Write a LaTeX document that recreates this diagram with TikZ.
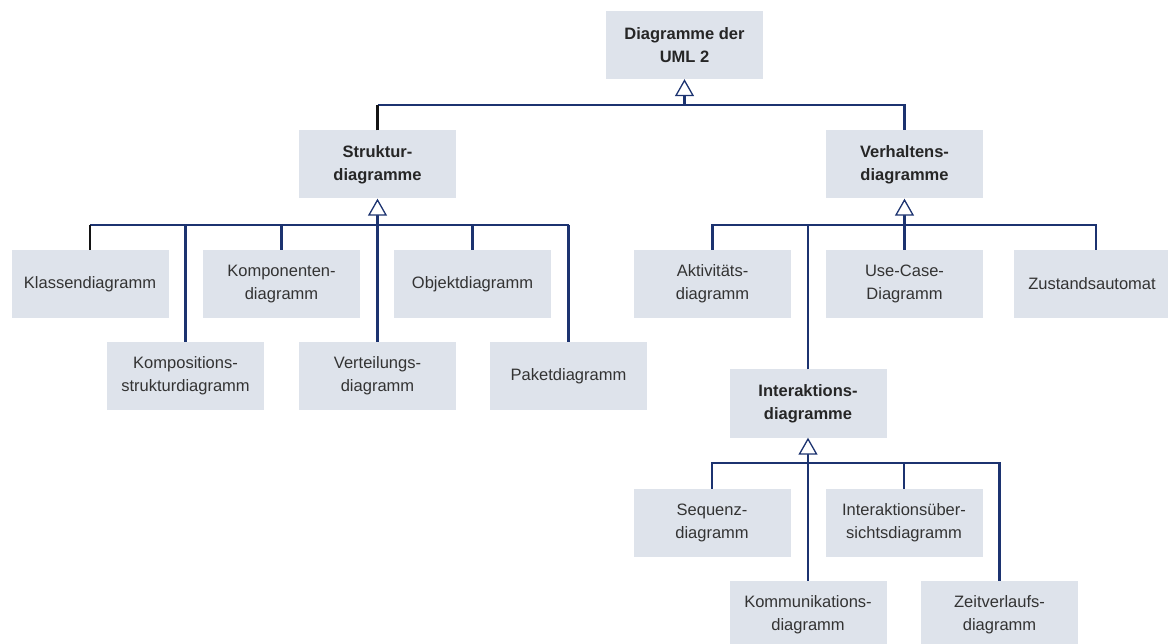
\documentclass[tikz,border=0pt]{standalone}
\usepackage{fontspec}
\setmainfont{Liberation Sans}
\usetikzlibrary{arrows.meta}
\definecolor{boxfill}{HTML}{DEE3EB}
\definecolor{linkblue}{HTML}{1C3370}
\definecolor{txt}{HTML}{333333}
\definecolor{darkline}{HTML}{141414}
\begin{document}
\begin{tikzpicture}[x=1pt,y=-1pt,
  box/.style={fill=boxfill, minimum width=157pt, minimum height=68pt, inner sep=0pt,
    align=center, text=txt, font=\fontsize{16.5}{23}\selectfont},
  head/.style={box, text=black!85, font=\fontsize{16.5}{23}\selectfont\bfseries},
  link/.style={draw=linkblue, line width=2.3pt},
  gen/.style={link, -{Triangle[open, fill=white, length=17pt, width=19pt, line width=1.3pt]}}]

\useasboundingbox (0,0) rectangle (1168,644);

% root and the two main groups
\node[head] (uml)       at (684.5,45)   {Diagramme der\\UML 2};
\node[head] (struktur)  at (377.5,164.5) {Struktur-\\diagramme};
\node[head] (verhalten) at (904.5,164.5) {Verhaltens-\\diagramme};

% structure diagrams
\node[box] (klassen)      at (90,284)    {Klassendiagramm};
\node[box] (komponenten)  at (281.5,284) {Komponenten-\\diagramm};
\node[box] (objekt)       at (472.5,284) {Objektdiagramm};
\node[box] (komposition)  at (185.5,376) {Kompositions-\\strukturdiagramm};
\node[box] (verteilung)   at (377.5,376) {Verteilungs-\\diagramm};
\node[box] (paket)        at (568.5,376) {Paketdiagramm};

% behaviour diagrams
\node[box] (aktivitaet)   at (712.5,284) {Aktivitäts-\\diagramm};
\node[box] (usecase)      at (904.5,284) {Use-Case-\\Diagramm};
\node[box] (zustand)      at (1092,284)  {Zustandsautomat};
\node[head] (interaktion) at (808,403.5) {Interaktions-\\diagramme};

% interaction diagrams
\node[box] (sequenz)      at (712,523)   {Sequenz-\\diagramm};
\node[box] (uebersicht)   at (904,523)   {Interaktionsüber-\\sichtsdiagramm};
\node[box] (kommunikation) at (808,615)  {Kommunikations-\\diagramm};
\node[box] (zeit)         at (999.5,615) {Zeitverlaufs-\\diagramm};

% bus junctions
\coordinate (tbus) at (684.5,105);
\coordinate (sbus) at (377.5,225);
\coordinate (vbus) at (904.5,225);
\coordinate (ibus) at (808,463);

% root level
\draw[link] (struktur.north |- tbus) -| (verhalten.north);
\draw[darkline, line width=2.3pt] (struktur.north) -- (struktur.north |- tbus);
\draw[gen] (tbus) -- (uml.south);

% structure group
\draw[link] (klassen.north |- sbus) -- (paket.north |- sbus);
\draw[darkline, line width=2.3pt] (klassen.north) -- (klassen.north |- sbus);
\draw[link] (komponenten.north) -- (komponenten.north |- sbus);
\draw[link] (objekt.north) -- (objekt.north |- sbus);
\draw[link] (komposition.north) -- (komposition.north |- sbus);
\draw[link] (verteilung.north) -- (verteilung.north |- sbus);
\draw[link] (paket.north) -- (paket.north |- sbus);
\draw[gen] (sbus) -- (struktur.south);

% behaviour group
\draw[link] (aktivitaet.north) |- (vbus) -| (1096,250);
\draw[link] (usecase.north) -- (vbus);
\draw[link] (interaktion.north) -- (interaktion.north |- vbus);
\draw[gen] (vbus) -- (verhalten.south);

% interaction group
\draw[link] (sequenz.north) |- (ibus) -| (zeit.north);
\draw[link] (uebersicht.north) -- (uebersicht.north |- ibus);
\draw[link, line width=2.8pt] (kommunikation.north) -- (ibus);
\draw[gen] (ibus) -- (interaktion.south);
\end{tikzpicture}
\end{document}
